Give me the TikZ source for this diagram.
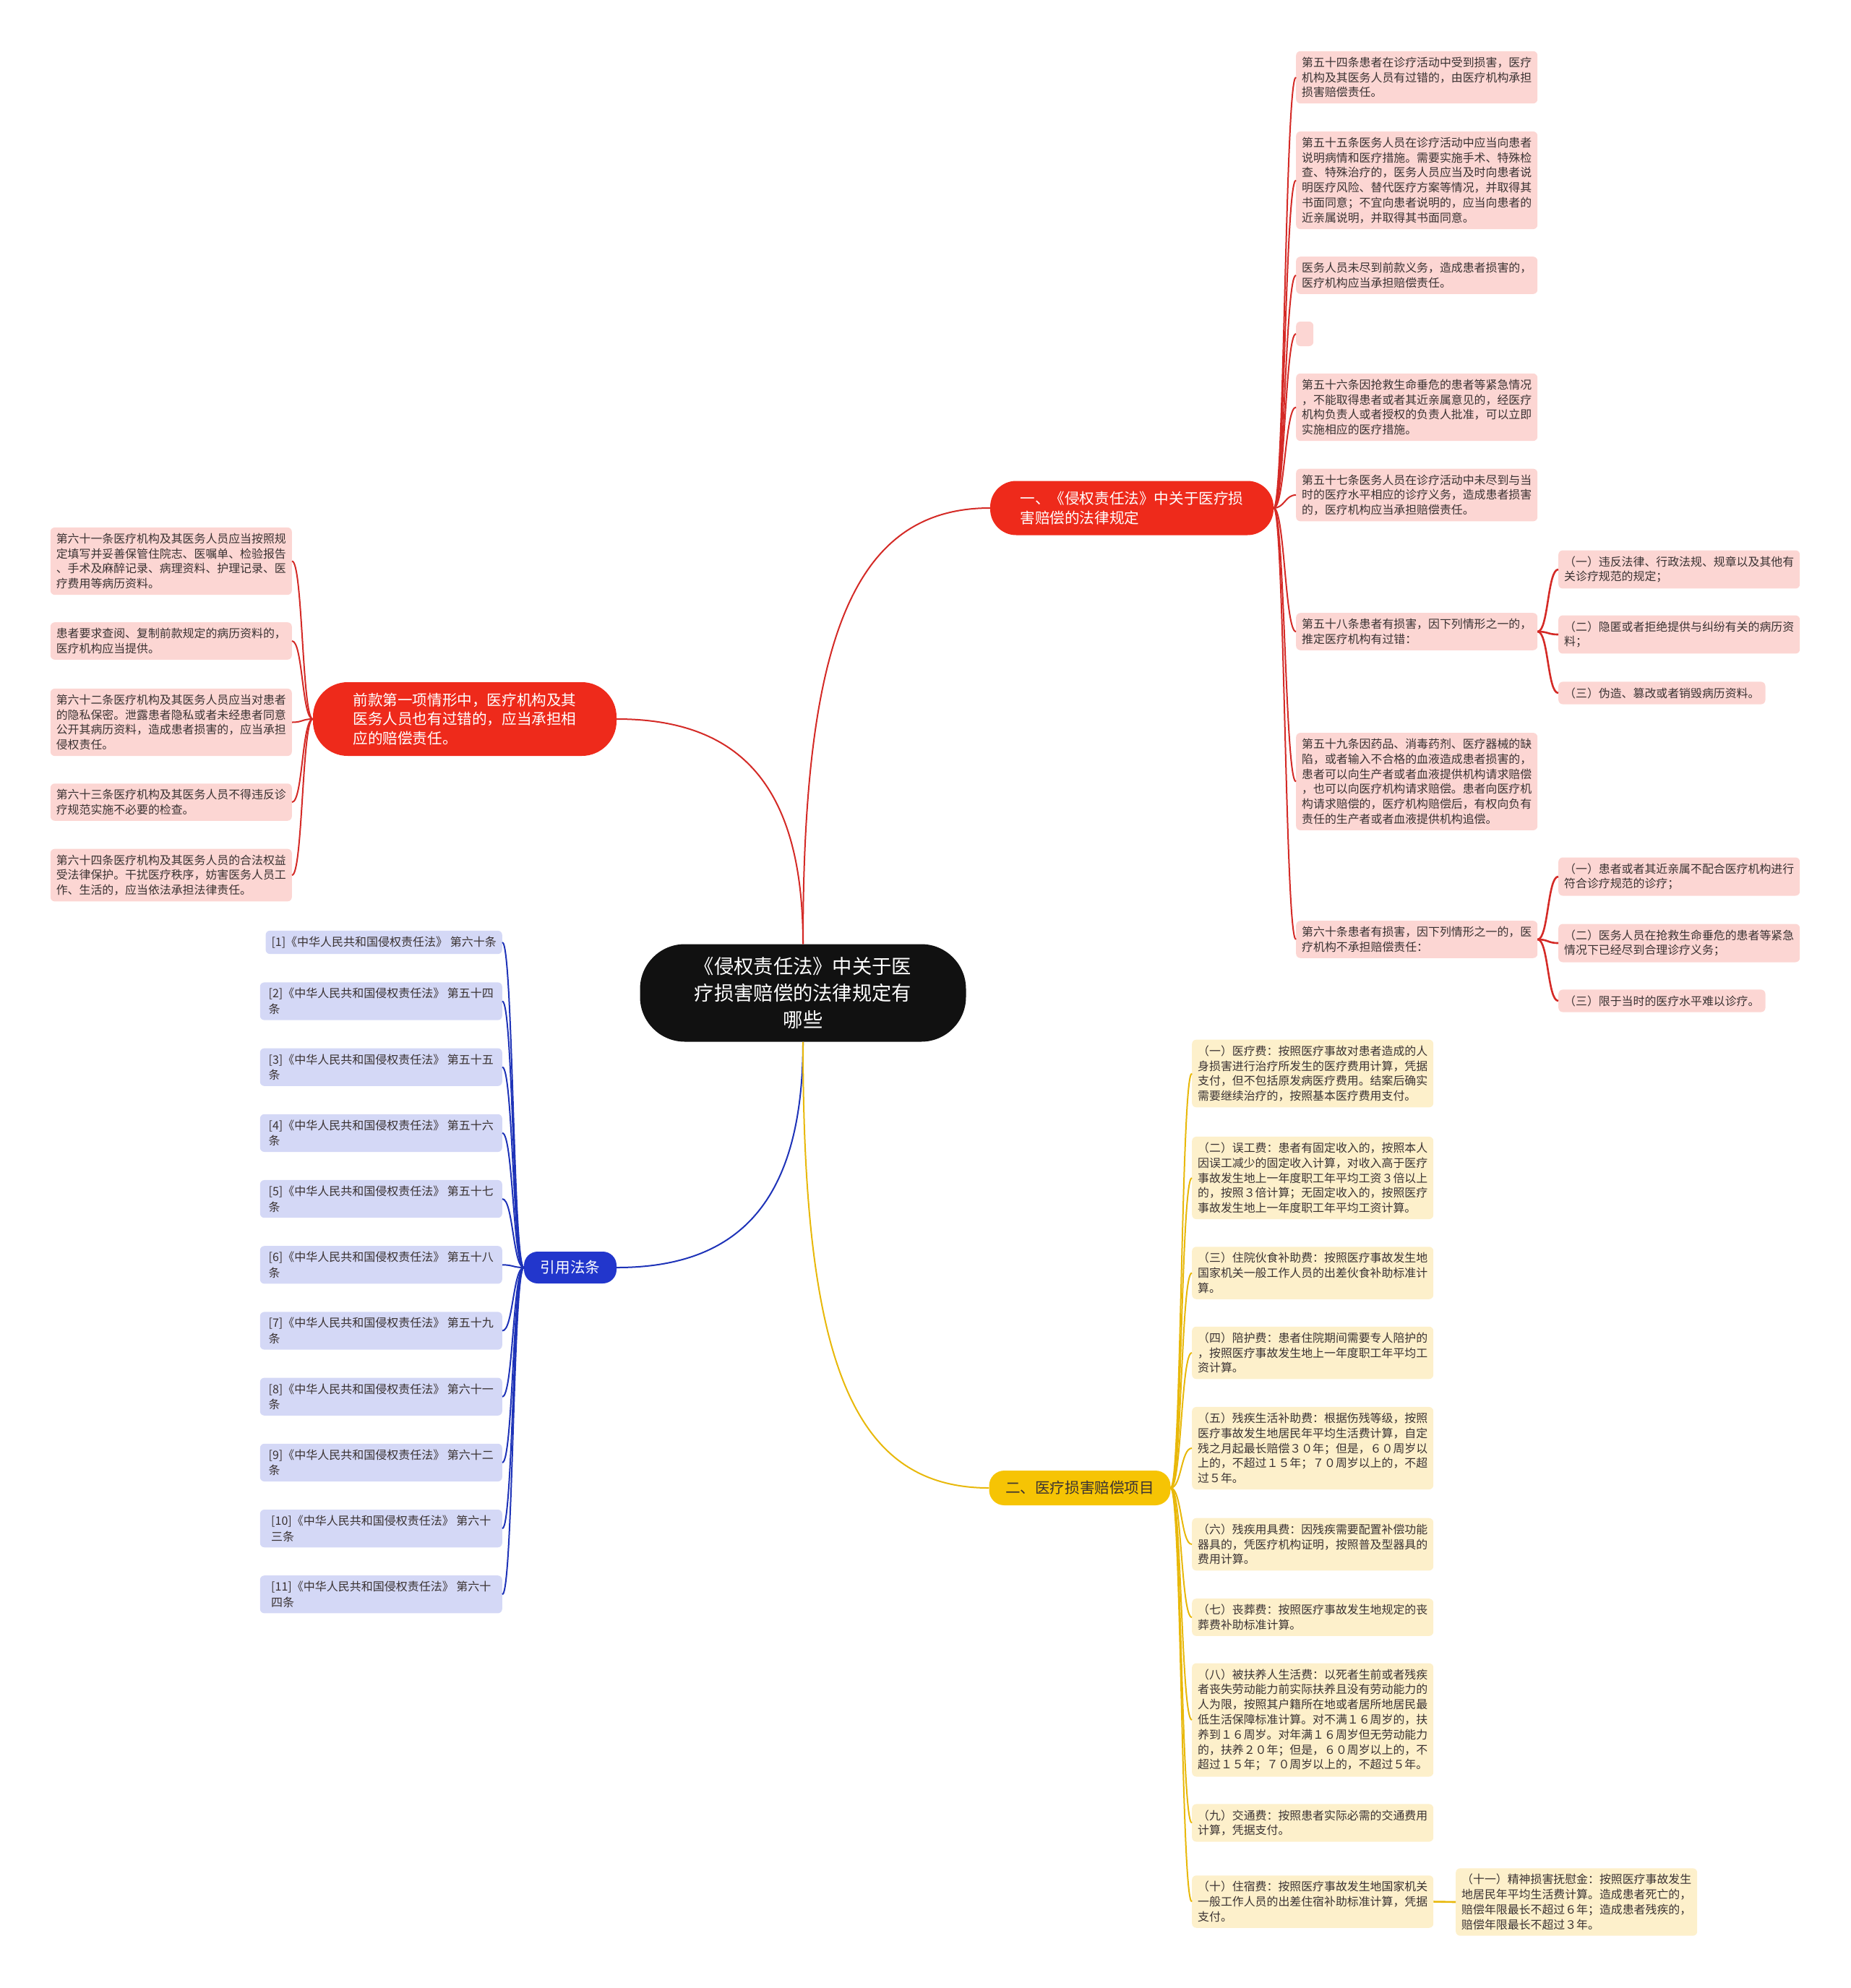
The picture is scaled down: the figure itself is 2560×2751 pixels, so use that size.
\documentclass[tikz,border=0pt]{standalone}
\usepackage{fontspec}
\newfontfamily\cjk{Noto Sans CJK SC}
\usetikzlibrary{positioning}
\definecolor{rootblk}{HTML}{111111}
\definecolor{mainred}{HTML}{EE2A1B}
\definecolor{mainblue}{HTML}{2236CC}
\definecolor{mainyel}{HTML}{F6C404}
\definecolor{leafred}{HTML}{FCD6D3}
\definecolor{leafblue}{HTML}{D4D8F6}
\definecolor{leafyel}{HTML}{FDF0CB}
\definecolor{linkred}{HTML}{D42A26}
\definecolor{linkblue}{HTML}{1E33B8}
\definecolor{linkyel}{HTML}{E8B80A}
\definecolor{leaftext}{HTML}{3A3232}

\begin{document}
\begin{tikzpicture}[x=1pt,y=-1pt,
  root/.style={fill=rootblk,text=white,rounded corners=62pt,minimum width=451pt,minimum height=135pt,align=center,font={\cjk\fontsize{27.3}{37}\selectfont},inner sep=0pt},
  topic/.style={rounded corners=#1,align=left,font={\cjk\fontsize{20.6}{26.5}\selectfont},inner sep=0pt},
  leaf/.style={rounded corners=6pt,align=left,text=leaftext,font={\cjk\fontsize{15.9}{20.8}\selectfont},inner xsep=8pt,inner ysep=8pt},
  redleaf/.style={leaf,fill=leafred},
  blueleaf/.style={leaf,fill=leafblue,font={\cjk\fontsize{16}{21.5}\selectfont}},
  yelleaf/.style={leaf,fill=leafyel},
  link/.style={line width=2pt},
  fanr/.style={to path={.. controls +(15,0) and +(-15,0) .. (\tikztotarget)}},
  fanl/.style={to path={.. controls +(-15,0) and +(15,0) .. (\tikztotarget)}}]
\useasboundingbox (0,0) rectangle (2560,2751);

% root and main topics
\node[root] (root) at (1111,1374) {《侵权责任法》中关于医\\疗损害赔偿的法律规定有\\哪些};
\node[topic=36pt,fill=mainred,text=white,minimum width=392pt,minimum height=75pt] (law) at (1566,703) {一、《侵权责任法》中关于医疗损\\害赔偿的法律规定};
\node[topic=48pt,fill=mainred,text=white,minimum width=420pt,minimum height=102pt] (fault) at (643,995) {前款第一项情形中，医疗机构及其\\医务人员也有过错的，应当承担相\\应的赔偿责任。};
\node[topic=19pt,fill=mainblue,text=white,minimum width=128pt,minimum height=44pt] (cite) at (789,1754) {引用法条};
\node[topic=21pt,fill=mainyel,text=leaftext,minimum width=251pt,minimum height=48pt] (items) at (1494,2059) {二、医疗损害赔偿项目};

\draw[link,linkred] (root.north) .. controls +(0,-420) and +(-190,0) .. (law.west);
\draw[link,linkred] (root.north) .. controls +(0,-220) and +(170,0) .. (fault.east);
\draw[link,linkblue] (root.south) .. controls +(0,220) and +(170,0) .. (cite.east);
\draw[link,linkyel] (root.south) .. controls +(0,440) and +(-190,0) .. (items.west);

% articles 54 to 60
\node[redleaf,anchor=west] (a54) at (1793,107) {第五十四条患者在诊疗活动中受到损害，医疗\\机构及其医务人员有过错的，由医疗机构承担\\损害赔偿责任。};
\node[redleaf,anchor=west] (a55) at (1793,249.5) {第五十五条医务人员在诊疗活动中应当向患者\\说明病情和医疗措施。需要实施手术、特殊检\\查、特殊治疗的，医务人员应当及时向患者说\\明医疗风险、替代医疗方案等情况，并取得其\\书面同意；不宜向患者说明的，应当向患者的\\近亲属说明，并取得其书面同意。};
\node[redleaf,anchor=west] (a55b) at (1793,381) {医务人员未尽到前款义务，造成患者损害的，\\医疗机构应当承担赔偿责任。};
\node[leaf,fill=leafred,anchor=west,minimum width=24pt,minimum height=34pt,inner sep=0pt] (blank) at (1793,462) {};
\node[redleaf,anchor=west] (a56) at (1793,563.5) {第五十六条因抢救生命垂危的患者等紧急情况\\，不能取得患者或者其近亲属意见的，经医疗\\机构负责人或者授权的负责人批准，可以立即\\实施相应的医疗措施。};
\node[redleaf,anchor=west] (a57) at (1793,685) {第五十七条医务人员在诊疗活动中未尽到与当\\时的医疗水平相应的诊疗义务，造成患者损害\\的，医疗机构应当承担赔偿责任。};
\node[redleaf,anchor=west] (a58) at (1793,874) {第五十八条患者有损害，因下列情形之一的，\\推定医疗机构有过错：};
\node[redleaf,anchor=west] (a59) at (1793,1081.5) {第五十九条因药品、消毒药剂、医疗器械的缺\\陷，或者输入不合格的血液造成患者损害的，\\患者可以向生产者或者血液提供机构请求赔偿\\，也可以向医疗机构请求赔偿。患者向医疗机\\构请求赔偿的，医疗机构赔偿后，有权向负有\\责任的生产者或者血液提供机构追偿。};
\node[redleaf,anchor=west] (a60) at (1793,1300) {第六十条患者有损害，因下列情形之一的，医\\疗机构不承担赔偿责任：};

\node[redleaf,anchor=west] (a58a) at (2156,788) {（一）违反法律、行政法规、规章以及其他有\\关诊疗规范的规定；};
\node[redleaf,anchor=west] (a58b) at (2156,878) {（二）隐匿或者拒绝提供与纠纷有关的病历资\\料；};
\node[redleaf,anchor=west] (a58c) at (2156,959) {（三）伪造、篡改或者销毁病历资料。};
\node[redleaf,anchor=west] (a60a) at (2156,1213) {（一）患者或者其近亲属不配合医疗机构进行\\符合诊疗规范的诊疗；};
\node[redleaf,anchor=west] (a60b) at (2156,1305) {（二）医务人员在抢救生命垂危的患者等紧急\\情况下已经尽到合理诊疗义务；};
\node[redleaf,anchor=west] (a60c) at (2156,1385) {（三）限于当时的医疗水平难以诊疗。};

\foreach \c in {a54,a55,a55b,blank,a56,a57,a58,a59,a60}
  \draw[link,linkred] (law.east) to[fanr] (\c.west);
\foreach \c in {a58a,a58b,a58c}
  \draw[link,linkred,line width=2.6pt] (a58.east) to[fanr] (\c.west);
\foreach \c in {a60a,a60b,a60c}
  \draw[link,linkred,line width=2.6pt] (a60.east) to[fanr] (\c.west);

% articles 61 to 64
\node[redleaf,anchor=east] (a61) at (404,776.5) {第六十一条医疗机构及其医务人员应当按照规\\定填写并妥善保管住院志、医嘱单、检验报告\\、手术及麻醉记录、病理资料、护理记录、医\\疗费用等病历资料。};
\node[redleaf,anchor=east] (a61b) at (404,887) {患者要求查阅、复制前款规定的病历资料的，\\医疗机构应当提供。};
\node[redleaf,anchor=east] (a62) at (404,999.5) {第六十二条医疗机构及其医务人员应当对患者\\的隐私保密。泄露患者隐私或者未经患者同意\\公开其病历资料，造成患者损害的，应当承担\\侵权责任。};
\node[redleaf,anchor=east] (a63) at (404,1110) {第六十三条医疗机构及其医务人员不得违反诊\\疗规范实施不必要的检查。};
\node[redleaf,anchor=east] (a64) at (404,1211) {第六十四条医疗机构及其医务人员的合法权益\\受法律保护。干扰医疗秩序，妨害医务人员工\\作、生活的，应当依法承担法律责任。};

\foreach \c in {a61,a61b,a62,a63,a64}
  \draw[link,linkred] (fault.west) to[fanl] (\c.east);

% cited articles
\node[blueleaf,anchor=east] (r1) at (695,1304) {[1]《中华人民共和国侵权责任法》 第六十条};
\foreach \i/\art in {2/五十四\\条,3/五十五\\条,4/五十六\\条,5/五十七\\条,6/五十八\\条,7/五十九\\条,8/六十一\\条,9/六十二\\条,10/六十\\三条,11/六十\\四条}
  \node[blueleaf,anchor=east,minimum width=335pt] (r\i) at (695,{1385.5+(\i-2)*91.2}) {[\i]《中华人民共和国侵权责任法》 第\art};
\foreach \i in {1,...,11}
  \draw[link,linkblue] (cite.west) to[fanl] (r\i.east);

% compensation items
\node[yelleaf,anchor=west] (c1) at (1649,1485.5) {（一）医疗费：按照医疗事故对患者造成的人\\身损害进行治疗所发生的医疗费用计算，凭据\\支付，但不包括原发病医疗费用。结案后确实\\需要继续治疗的，按照基本医疗费用支付。};
\node[yelleaf,anchor=west] (c2) at (1649,1630) {（二）误工费：患者有固定收入的，按照本人\\因误工减少的固定收入计算，对收入高于医疗\\事故发生地上一年度职工年平均工资３倍以上\\的，按照３倍计算；无固定收入的，按照医疗\\事故发生地上一年度职工年平均工资计算。};
\node[yelleaf,anchor=west] (c3) at (1649,1761.5) {（三）住院伙食补助费：按照医疗事故发生地\\国家机关一般工作人员的出差伙食补助标准计\\算。};
\node[yelleaf,anchor=west] (c4) at (1649,1872) {（四）陪护费：患者住院期间需要专人陪护的\\，按照医疗事故发生地上一年度职工年平均工\\资计算。};
\node[yelleaf,anchor=west] (c5) at (1649,2004) {（五）残疾生活补助费：根据伤残等级，按照\\医疗事故发生地居民年平均生活费计算，自定\\残之月起最长赔偿３０年；但是，６０周岁以\\上的，不超过１５年；７０周岁以上的，不超\\过５年。};
\node[yelleaf,anchor=west] (c6) at (1649,2137) {（六）残疾用具费：因残疾需要配置补偿功能\\器具的，凭医疗机构证明，按照普及型器具的\\费用计算。};
\node[yelleaf,anchor=west] (c7) at (1649,2238) {（七）丧葬费：按照医疗事故发生地规定的丧\\葬费补助标准计算。};
\node[yelleaf,anchor=west] (c8) at (1649,2380) {（八）被扶养人生活费：以死者生前或者残疾\\者丧失劳动能力前实际扶养且没有劳动能力的\\人为限，按照其户籍所在地或者居所地居民最\\低生活保障标准计算。对不满１６周岁的，扶\\养到１６周岁。对年满１６周岁但无劳动能力\\的，扶养２０年；但是，６０周岁以上的，不\\超过１５年；７０周岁以上的，不超过５年。};
\node[yelleaf,anchor=west] (c9) at (1649,2522.5) {（九）交通费：按照患者实际必需的交通费用\\计算，凭据支付。};
\node[yelleaf,anchor=west] (c10) at (1649,2631.5) {（十）住宿费：按照医疗事故发生地国家机关\\一般工作人员的出差住宿补助标准计算，凭据\\支付。};
\node[yelleaf,anchor=west] (c11) at (2014,2632) {（十一）精神损害抚慰金：按照医疗事故发生\\地居民年平均生活费计算。造成患者死亡的，\\赔偿年限最长不超过６年；造成患者残疾的，\\赔偿年限最长不超过３年。};

\foreach \i in {1,...,10}
  \draw[link,linkyel] (items.east) to[fanr] (c\i.west);
\draw[link,linkyel,line width=2.6pt] (c10.east) -- (c11.west);
\end{tikzpicture}
\end{document}
